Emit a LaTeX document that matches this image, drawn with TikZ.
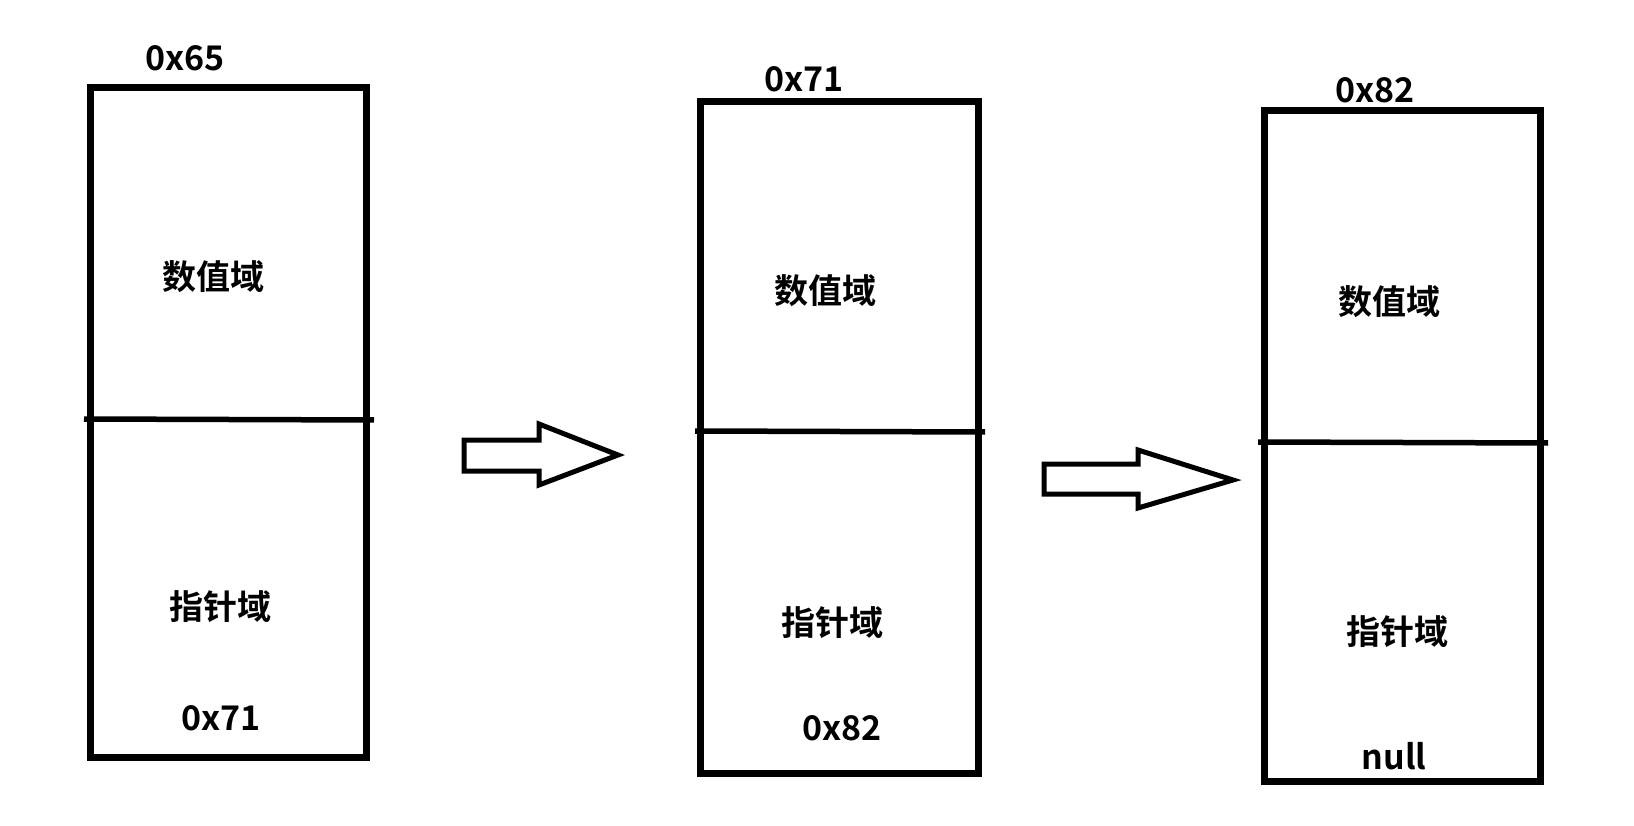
\documentclass[tikz,border=0pt]{standalone}
\usepackage{fontspec}
\setmainfont{Noto Sans CJK SC}[BoldFont={Noto Sans CJK SC Bold}]
\begin{document}
\begin{tikzpicture}[x=1pt,y=-1pt,
  box/.style={draw,line width=7pt,inner sep=0pt},
  lbl/.style={font=\fontsize{34}{36}\selectfont\bfseries,inner sep=0pt},
  harrow/.style={draw,line width=5pt,line join=miter}]
\useasboundingbox (0,0) rectangle (1634,826);
% box 1
\node[box,minimum width=276pt,minimum height=669pt] (b1) at (228,422.5) {};
\draw[line width=5.5pt] (84,419) -- (374,420);
\node[lbl] (a1) at (185,58) {0x65};
\node[lbl] (v1) at (213,277) {数值域};
\node[lbl] (p1) at (220,607) {指针域};
\node[lbl] (n1) at (221,718) {0x71};
% box 2
\node[box,minimum width=278pt,minimum height=671pt] (b2) at (839,437.5) {};
\draw[line width=5.5pt] (695,431) -- (985,432);
\node[lbl] (a2) at (804,79) {0x71};
\node[lbl] (v2) at (825,291) {数值域};
\node[lbl] (p2) at (832,623) {指针域};
\node[lbl] (n2) at (842,728) {0x82};
% box 3
\node[box,minimum width=276pt,minimum height=670pt] (b3) at (1402,446) {};
\draw[line width=5.5pt] (1258,442) -- (1548,443);
\node[lbl] (a3) at (1375,90) {0x82};
\node[lbl] (v3) at (1389,302) {数值域};
\node[lbl] (p3) at (1397,632) {指针域};
\node[lbl] (n3) at (1394,756) {null};
% arrows
\draw[harrow] (464,440) -- (539,440) -- (539,424) -- (618,455) -- (539,485) -- (539,471) -- (464,471) -- cycle;
\draw[harrow] (1044,464) -- (1138,464) -- (1138,450) -- (1233,480) -- (1138,508) -- (1138,494) -- (1044,494) -- cycle;
\end{tikzpicture}
\end{document}
